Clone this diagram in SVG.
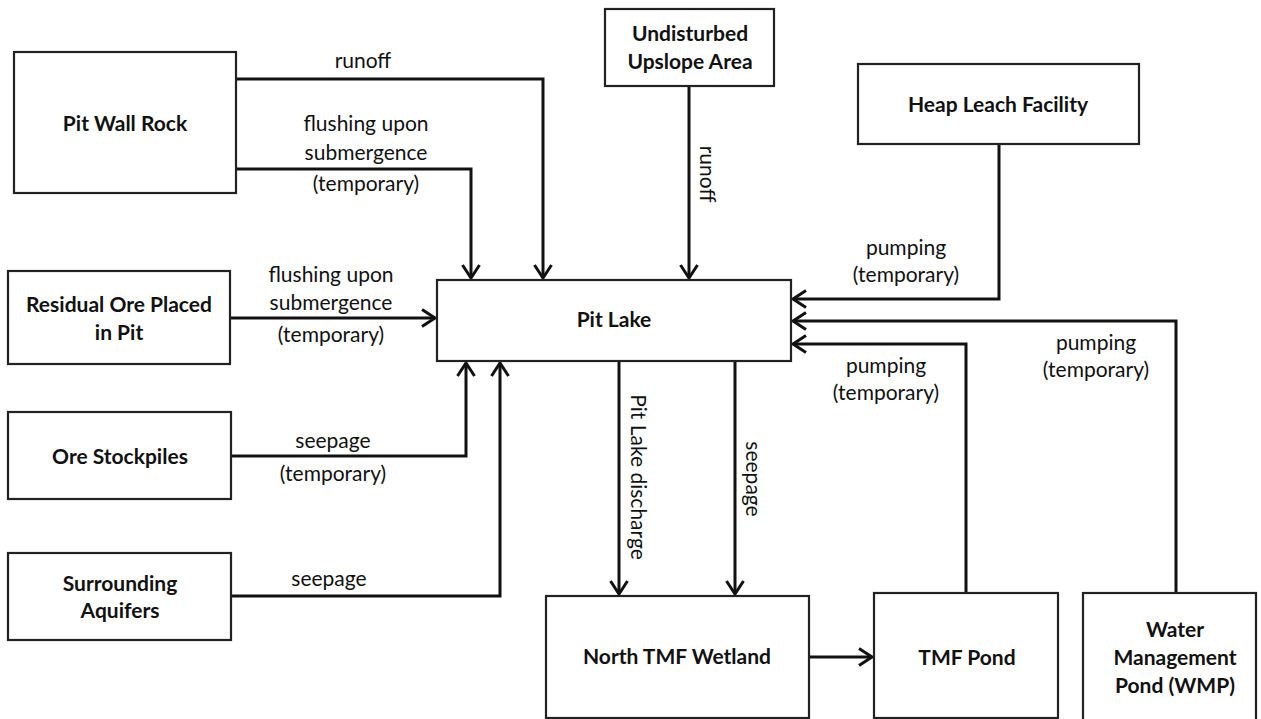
<svg xmlns="http://www.w3.org/2000/svg" width="1261" height="719" viewBox="0 0 1261 719">
  <style>
    .box { fill: #ffffff; stroke: #222; stroke-width: 2.2; }
    .node { font-family: Lato, "Open Sans", "Liberation Sans", sans-serif; font-weight: bold; font-size: 21px; fill: #111; text-anchor: middle; }
    .lbl { font-family: Lato, "Open Sans", "Liberation Sans", sans-serif; font-size: 21px; fill: #111; text-anchor: middle; }
    .flow { fill: none; stroke: #111; stroke-width: 3; }
  </style>
  <defs>
    <marker id="arrow" markerUnits="userSpaceOnUse" markerWidth="18" markerHeight="22" viewBox="0 0 18 22" refX="15" refY="11" orient="auto">
      <path d="M2,2.5 L15,11 L2,19.5" fill="none" stroke="#111" stroke-width="3"/>
    </marker>
  </defs>
  <rect width="1261" height="719" fill="#ffffff"/>

  <g id="connectors">
    <path class="flow" d="M236,79 H543 V278" marker-end="url(#arrow)"/>
    <path class="flow" d="M236,169 H471 V278" marker-end="url(#arrow)"/>
    <path class="flow" d="M689,86 V278" marker-end="url(#arrow)"/>
    <path class="flow" d="M999,144 V299 H793" marker-end="url(#arrow)"/>
    <path class="flow" d="M1176,593 V321 H793" marker-end="url(#arrow)"/>
    <path class="flow" d="M966,593 V344 H793" marker-end="url(#arrow)"/>
    <path class="flow" d="M230,318 H435" marker-end="url(#arrow)"/>
    <path class="flow" d="M231,456 H466 V363" marker-end="url(#arrow)"/>
    <path class="flow" d="M231,596 H500 V363" marker-end="url(#arrow)"/>
    <path class="flow" d="M619,361 V594" marker-end="url(#arrow)"/>
    <path class="flow" d="M735,361 V594" marker-end="url(#arrow)"/>
    <path class="flow" d="M809,657 H872" marker-end="url(#arrow)"/>

    <text class="lbl" x="363" y="68">runoff</text>
    <text class="lbl" x="366" y="131">flushing upon</text>
    <text class="lbl" x="366" y="160">submergence</text>
    <text class="lbl" x="366" y="191">(temporary)</text>
    <text class="lbl" transform="translate(700,174) rotate(90)">runoff</text>
    <text class="lbl" x="906" y="255">pumping</text>
    <text class="lbl" x="906" y="282">(temporary)</text>
    <text class="lbl" x="1096" y="350">pumping</text>
    <text class="lbl" x="1096" y="377">(temporary)</text>
    <text class="lbl" x="886" y="373">pumping</text>
    <text class="lbl" x="886" y="400">(temporary)</text>
    <text class="lbl" x="331" y="282">flushing upon</text>
    <text class="lbl" x="331" y="310">submergence</text>
    <text class="lbl" x="331" y="342">(temporary)</text>
    <text class="lbl" x="333" y="448">seepage</text>
    <text class="lbl" x="333" y="481">(temporary)</text>
    <text class="lbl" x="329" y="586">seepage</text>
    <text class="lbl" transform="translate(631,477) rotate(90)">Pit Lake discharge</text>
    <text class="lbl" transform="translate(746,479) rotate(90)">seepage</text>
  </g>

  <g id="pit-wall-rock">
    <rect class="box" x="14" y="52" width="222" height="141"/>
    <text class="node" x="125" y="131">Pit Wall Rock</text>
  </g>
  <g id="undisturbed-upslope-area">
    <rect class="box" x="605" y="9" width="169" height="77"/>
    <text class="node" x="690" y="41">Undisturbed</text>
    <text class="node" x="690" y="69">Upslope Area</text>
  </g>
  <g id="heap-leach-facility">
    <rect class="box" x="858" y="64" width="281" height="80"/>
    <text class="node" x="998" y="112">Heap Leach Facility</text>
  </g>
  <g id="residual-ore">
    <rect class="box" x="8" y="271" width="222" height="93"/>
    <text class="node" x="119" y="312">Residual Ore Placed</text>
    <text class="node" x="119" y="340">in Pit</text>
  </g>
  <g id="pit-lake">
    <rect class="box" x="437" y="280" width="354" height="81"/>
    <text class="node" x="614" y="327">Pit Lake</text>
  </g>
  <g id="ore-stockpiles">
    <rect class="box" x="8" y="412" width="223" height="87"/>
    <text class="node" x="120" y="464">Ore Stockpiles</text>
  </g>
  <g id="surrounding-aquifers">
    <rect class="box" x="8" y="553" width="223" height="87"/>
    <text class="node" x="120" y="591">Surrounding</text>
    <text class="node" x="120" y="618">Aquifers</text>
  </g>
  <g id="north-tmf-wetland">
    <rect class="box" x="546" y="596" width="263" height="122"/>
    <text class="node" x="677" y="664">North TMF Wetland</text>
  </g>
  <g id="tmf-pond">
    <rect class="box" x="874" y="593" width="184" height="125"/>
    <text class="node" x="967" y="665">TMF Pond</text>
  </g>
  <g id="water-management-pond">
    <rect class="box" x="1083" y="593" width="173" height="128"/>
    <text class="node" x="1175" y="637">Water</text>
    <text class="node" x="1175" y="665">Management</text>
    <text class="node" x="1175" y="693">Pond (WMP)</text>
  </g>
</svg>
